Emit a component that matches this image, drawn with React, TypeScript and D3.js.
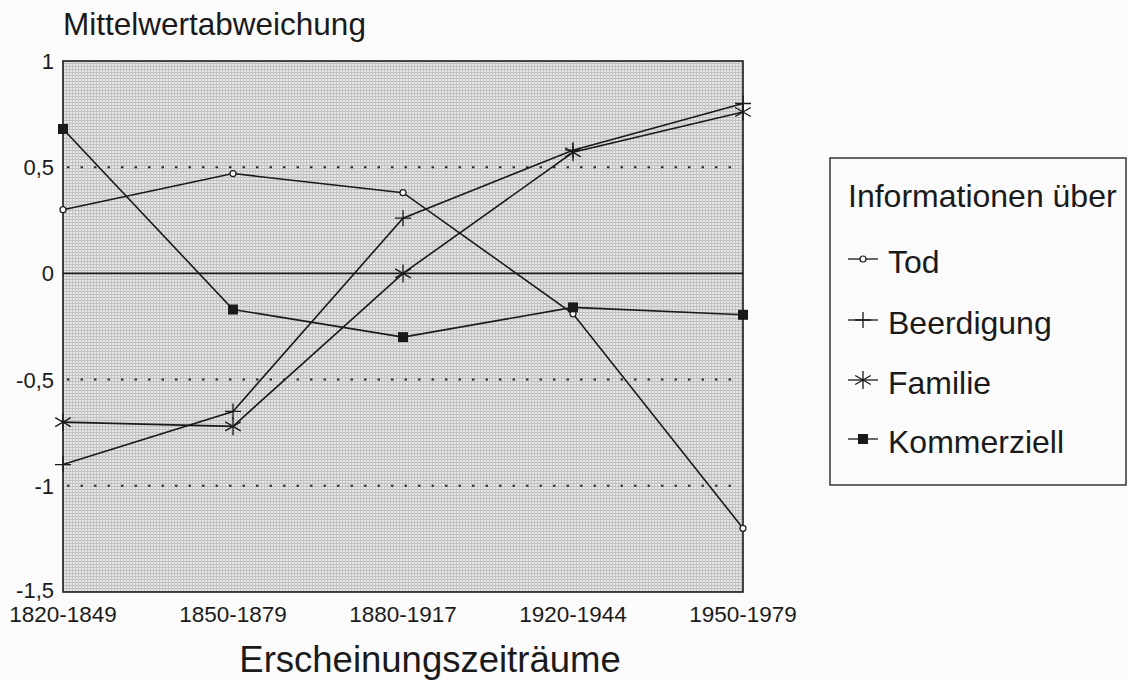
import * as d3 from 'd3'

const PERIODS = ['1820-1849', '1850-1879', '1880-1917', '1920-1944', '1950-1979']
const Y_TICKS = [1, 0.5, 0, -0.5, -1, -1.5]
const DOTTED_AT = [0.5, -0.5, -1]

const TOD = [0.3, 0.47, 0.38, -0.19, -1.2]
const BEERDIGUNG = [-0.9, -0.65, 0.26, 0.58, 0.8]
const FAMILIE = [-0.7, -0.72, 0.0, 0.57, 0.76]
const KOMMERZIELL = [0.68, -0.17, -0.3, -0.16, -0.195]

const SERIES = [
  { name: 'Tod', values: TOD, marker: 'circle' },
  { name: 'Beerdigung', values: BEERDIGUNG, marker: 'plus' },
  { name: 'Familie', values: FAMILIE, marker: 'star' },
  { name: 'Kommerziell', values: KOMMERZIELL, marker: 'square' },
]

const W = 1128
const H = 680
const PLOT = { left: 63, right: 743, top: 61, bottom: 592 }
const INK = '#1a1a1a'
const FONT = '"Liberation Sans", Arial, Helvetica, sans-serif'

function Marker({ type, x, y }: { type: string; x: number; y: number }) {
  if (type === 'circle') return <circle cx={x} cy={y} r={3} fill="#fff" stroke={INK} strokeWidth={1.2} />
  if (type === 'square') return <rect x={x - 5} y={y - 5} width={10} height={10} fill={INK} />
  if (type === 'plus')
    return (
      <path d={`M${x - 8},${y}H${x + 8}M${x},${y - 8}V${y + 8}`} stroke={INK} strokeWidth={1.3} fill="none" />
    )
  // asterisk: vertical + two diagonals
  const r = 9
  const dx = r * Math.cos(Math.PI / 6)
  const dy = r * Math.sin(Math.PI / 6)
  return (
    <path
      d={`M${x},${y - r}V${y + r}M${x - dx},${y - dy}L${x + dx},${y + dy}M${x - dx},${y + dy}L${x + dx},${y - dy}`}
      stroke={INK}
      strokeWidth={1.3}
      fill="none"
    />
  )
}

export default function App() {
  const x = d3.scalePoint<string>().domain(PERIODS).range([PLOT.left, PLOT.right])
  const y = d3.scaleLinear().domain([-1.5, 1]).range([PLOT.bottom, PLOT.top])
  const line = d3
    .line<number>()
    .x((_d, i) => x(PERIODS[i]) ?? 0)
    .y((d) => y(d))

  const fmt = (v: number) => String(v).replace('.', ',')

  const legendX = 830
  const legendRows = [273, 334, 394, 453]

  return (
    <svg
      width={W}
      height={H}
      style={{ position: 'absolute', left: 0, top: 0, background: '#fbfbfb' }}
      fontFamily={FONT}
    >
      <defs>
        <pattern id="stipple" width={3} height={3} patternUnits="userSpaceOnUse">
          <rect width={3} height={3} fill="#e6e6e6" />
          <rect width={3} height={1} fill="#bdbdbd" />
          <rect width={1} height={3} fill="#c4c4c4" />
        </pattern>
      </defs>

      <text x={63} y={35} fontSize={31.5} fill={INK}>
        Mittelwertabweichung
      </text>

      <rect
        x={PLOT.left}
        y={PLOT.top}
        width={PLOT.right - PLOT.left}
        height={PLOT.bottom - PLOT.top}
        fill="url(#stipple)"
        stroke={INK}
        strokeWidth={1.6}
      />

      {DOTTED_AT.map((v) => (
        <line
          key={v}
          x1={PLOT.left + 4}
          x2={PLOT.right}
          y1={y(v)}
          y2={y(v)}
          stroke="#2a2a2a"
          strokeWidth={2}
          strokeDasharray="2.5,11"
        />
      ))}
      <line x1={PLOT.left} x2={PLOT.right} y1={y(0)} y2={y(0)} stroke={INK} strokeWidth={1.6} />

      {Y_TICKS.map((t) => (
        <text
          key={t}
          x={54}
          y={t === -1.5 ? y(t) - 2 : y(t)}
          dy="0.36em"
          textAnchor="end"
          fontSize={22}
          fill={INK}
        >
          {fmt(t)}
        </text>
      ))}

      {PERIODS.map((p) => (
        <text key={p} x={x(p)} y={622} textAnchor="middle" fontSize={22.5} fill={INK}>
          {p}
        </text>
      ))}

      <text x={430} y={672} textAnchor="middle" fontSize={36.5} fill={INK}>
        Erscheinungszeiträume
      </text>

      {SERIES.map((s) => (
        <g key={s.name}>
          <path d={line(s.values) ?? ''} fill="none" stroke={INK} strokeWidth={1.6} />
          {s.values.map((v, i) => (
            <Marker key={i} type={s.marker} x={x(PERIODS[i]) ?? 0} y={y(v)} />
          ))}
        </g>
      ))}

      <rect x={legendX} y={158} width={W - legendX - 2} height={485 - 158} fill="none" stroke={INK} strokeWidth={1.3} />
      <text x={848} y={207} fontSize={32} fill={INK}>
        Informationen über
      </text>
      {SERIES.map((s, i) => (
        <g key={s.name}>
          <line x1={848} x2={878} y1={legendRows[i] - 14} y2={legendRows[i] - 14} stroke={INK} strokeWidth={1.3} />
          <Marker type={s.marker} x={863} y={legendRows[i] - 14} />
          <text x={888} y={legendRows[i]} fontSize={32} fill={INK}>
            {s.name}
          </text>
        </g>
      ))}
    </svg>
  )
}
